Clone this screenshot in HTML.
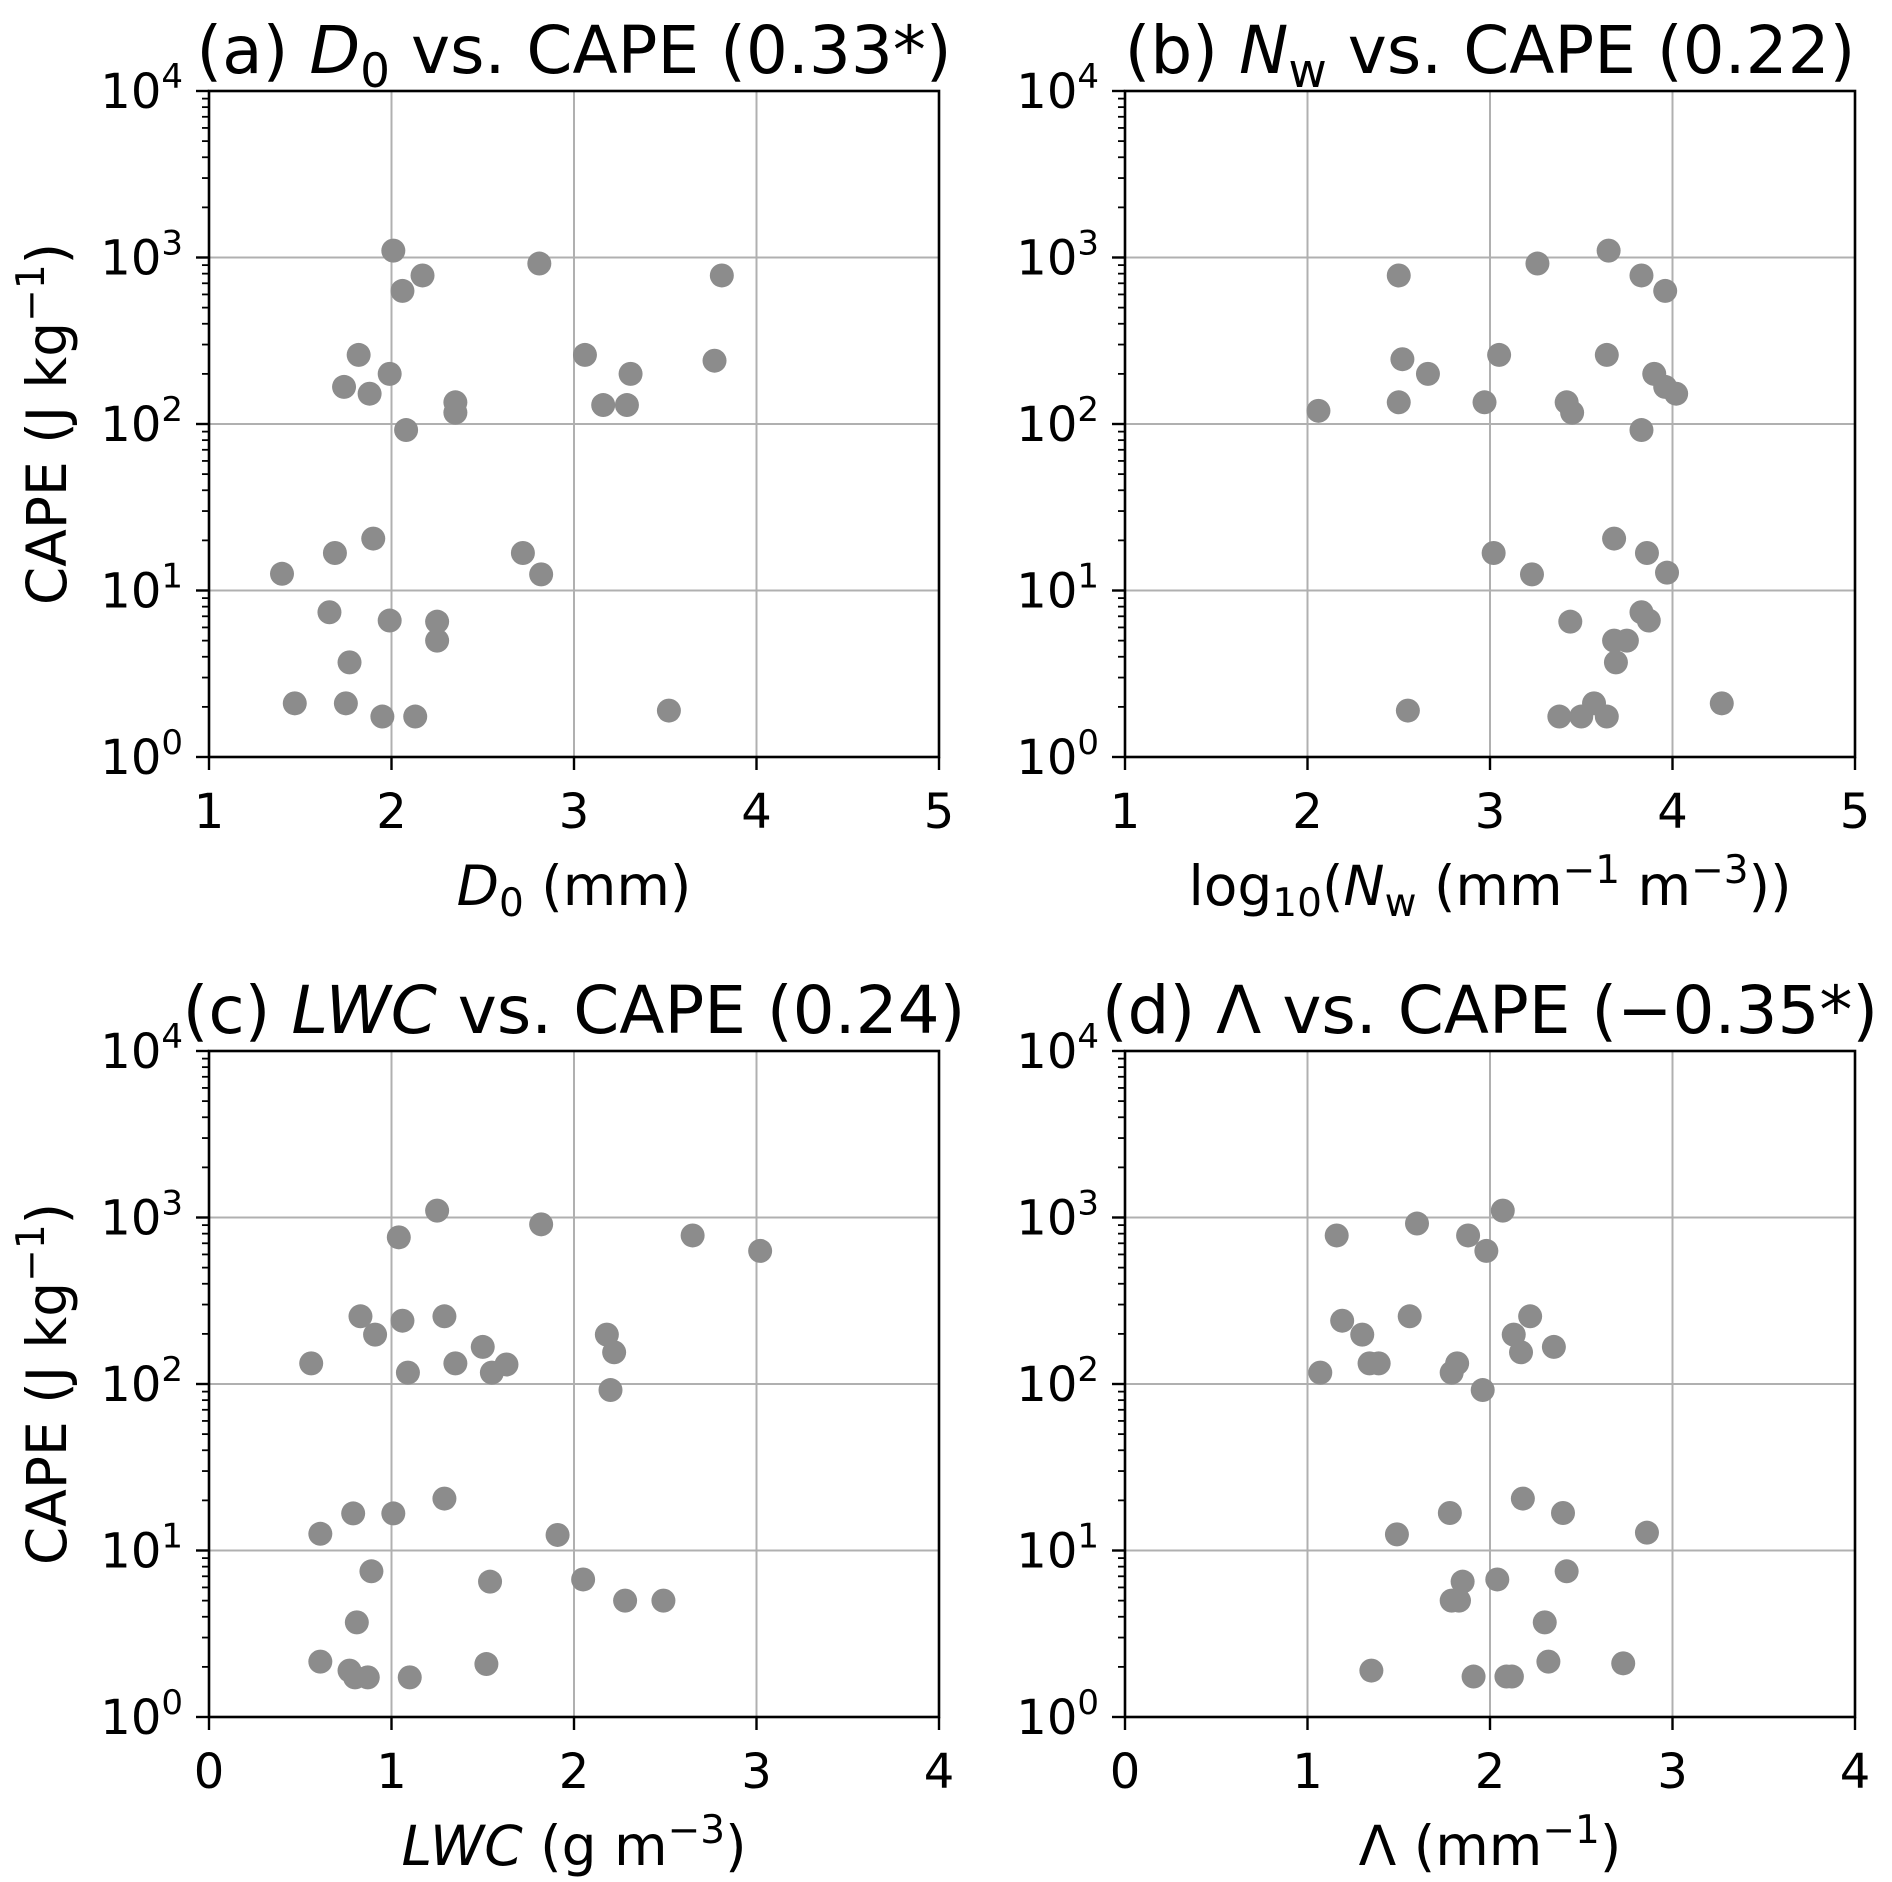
<!DOCTYPE html>
<html><head><meta charset="utf-8"><style>
html,body{margin:0;padding:0;background:#fff}
svg{display:block;font-family:"DejaVu Sans","Liberation Sans",sans-serif}
</style></head><body>
<svg id="fig" width="1892" height="1882" viewBox="0 0 1892 1882" xmlns="http://www.w3.org/2000/svg"></svg>
<script>
// ---- data ----
const aX = [2.01,2.06,2.17,2.81,3.81,1.82,1.99,1.74,1.88,2.35,2.35,2.08,3.06,3.31,3.16,3.29,3.77,1.40,1.69,1.90,2.72,2.82,1.66,1.99,2.25,2.25,1.77,1.47,1.75,1.95,2.13,3.52];
const aY = [1100,630,780,920,780,260,200,167,152,135,117,92,260,200,130,130,240,12.6,16.8,20.5,16.8,12.5,7.4,6.6,6.5,5.0,3.7,2.1,2.1,1.75,1.75,1.9];
const bX = [3.65,3.26,2.50,3.83,3.96,2.06,2.52,2.50,2.66,3.05,2.97,3.42,3.45,3.64,3.90,3.96,4.02,3.83,3.02,3.23,3.68,3.86,3.97,3.83,3.87,3.44,3.68,3.75,3.69,4.27,2.55,3.38,3.50,3.57,3.64];
const bY = [1100,920,780,780,630,120,245,135,200,260,135,135,117,260,200,167,152,92,16.8,12.5,20.5,16.8,12.8,7.4,6.6,6.5,5,5,3.7,2.1,1.9,1.75,1.75,2.1,1.75];
const cX = [1.25,1.04,1.82,2.65,3.02,0.83,1.06,0.91,1.29,1.50,0.56,1.09,1.35,1.55,1.63,2.18,2.22,2.20,1.29,0.79,1.01,0.61,1.91,0.89,1.54,2.05,2.28,2.49,0.81,0.61,0.77,0.80,0.87,1.10,1.52];
const cY = [1100,760,910,780,630,255,240,198,255,167,133,117,133,117,131,198,155,92,20.5,16.7,16.7,12.6,12.4,7.5,6.5,6.7,5.0,5.0,3.7,2.15,1.9,1.73,1.73,1.73,2.08];
const dX = [2.07,1.16,1.60,1.88,1.98,1.19,1.30,1.56,2.22,2.13,2.35,2.17,1.07,1.34,1.39,1.82,1.79,1.96,2.18,1.78,2.40,1.49,2.86,2.42,1.85,2.04,1.79,1.83,2.30,2.32,2.73,1.35,1.91,2.09,2.12];
const dY = [1100,780,920,780,630,240,198,255,255,198,167,155,117,133,133,133,117,92,20.5,16.8,16.8,12.5,12.8,7.5,6.5,6.7,5,5,3.7,2.15,2.1,1.9,1.75,1.75,1.75];
const xTicksAB = [1,2,3,4,5];
const xTicksCD = [0,1,2,3,4];
const yDecades = [0,1,2,3,4];

const NS="http://www.w3.org/2000/svg";
const svg=document.getElementById('fig');
function el(tag,attrs,parent){const e=document.createElementNS(NS,tag);for(const k in attrs)e.setAttribute(k,attrs[k]);(parent||svg).appendChild(e);return e;}

function panel(cfg){
  const g=el('g',{});
  
  
  const L=cfg.left,T=cfg.top,W=730,H=666;
  const xs=v=>L+(v-cfg.xmin)/(cfg.xmax-cfg.xmin)*W;
  const ys=v=>T+H-(Math.log10(v)-0)/4*H;
  cfg.xticks.forEach(t=>{const l=el('line',{x1:xs(t),x2:xs(t),y1:T,y2:T+H,stroke:'#b0b0b0','stroke-width':2},g);
    
    });
  yDecades.forEach(d=>{const v=Math.pow(10,d);const l=el('line',{x1:L,x2:L+W,y1:ys(v),y2:ys(v),stroke:'#b0b0b0','stroke-width':2},g);
    
    });
  cfg.x.forEach((xv,i)=>{const c=el('circle',{cx:xs(xv),cy:ys(cfg.y[i]),r:12,fill:'#8c8c8c'},g);
    
    });
  const fr=el('rect',{x:L,y:T,width:W,height:H,fill:'none',stroke:'#000','stroke-width':2.6},g);
  
  
  cfg.xticks.forEach(t=>{el('line',{x1:xs(t),x2:xs(t),y1:T+H,y2:T+H+13,stroke:'#000','stroke-width':2.4},g);
    const tx=el('text',{x:xs(t),y:T+H+71,'font-size':48,'text-anchor':'middle'},g);tx.textContent=t;
    
    });
  yDecades.forEach(d=>{const y=ys(Math.pow(10,d));
    el('line',{x1:L-13,x2:L,y1:y,y2:y,stroke:'#000','stroke-width':2.4},g);
    if(d<4){for(let m=2;m<10;m++){const ym=ys(m*Math.pow(10,d));el('line',{x1:L-7,x2:L,y1:ym,y2:ym,stroke:'#000','stroke-width':1.8},g);}}
    const tx=el('text',{x:L-26,y:y+17,'font-size':48,'text-anchor':'end'},g);
    
    
    const t1=el('tspan',{},tx);t1.textContent='10';
    const t2=el('tspan',{dy:-20,'font-size':34},tx);t2.textContent=d;});
  const ti=el('text',{x:L+W/2,y:T-18,'font-size':66,'text-anchor':'middle'},g);
  
  
  ti.innerHTML=cfg.title;
  const xl=el('text',{x:L+W/2,y:T+H+148,'font-size':55,'text-anchor':'middle'},g);
  
  
  xl.innerHTML=cfg.xlabel;
  if(cfg.ylabel){const cy=T+H/2;
    const yl=el('text',{x:0,y:0,'font-size':55,'text-anchor':'middle',transform:`translate(66,${cy}) rotate(-90)`},g);
    
    
    yl.innerHTML='CAPE (J kg<tspan dy="-22" font-size="39">−1</tspan><tspan dy="22">)</tspan>';}
}
panel({name:'panel-a',left:209,top:91,xmin:1,xmax:5,xticks:xTicksAB,x:aX,y:aY,ylabel:true,
 title:'(a) <tspan font-style="italic">D</tspan><tspan dy="14" font-size="47">0</tspan><tspan dy="-14"> vs. CAPE (0.33*)</tspan>',
 xlabel:'<tspan font-style="italic">D</tspan><tspan dy="11" font-size="39">0</tspan><tspan dy="-11"> (mm)</tspan>'});
panel({name:'panel-b',left:1125,top:91,xmin:1,xmax:5,xticks:xTicksAB,x:bX,y:bY,ylabel:false,
 title:'(b) <tspan font-style="italic">N</tspan><tspan dy="14" font-size="47">w</tspan><tspan dy="-14"> vs. CAPE (0.22)</tspan>',
 xlabel:'log<tspan dy="11" font-size="39">10</tspan><tspan dy="-11">(</tspan><tspan font-style="italic">N</tspan><tspan dy="11" font-size="39">w</tspan><tspan dy="-11"> (mm</tspan><tspan dy="-22" font-size="39">−1</tspan><tspan dy="22"> m</tspan><tspan dy="-22" font-size="39">−3</tspan><tspan dy="22">))</tspan>'});
panel({name:'panel-c',left:209,top:1051,xmin:0,xmax:4,xticks:xTicksCD,x:cX,y:cY,ylabel:true,
 title:'(c) <tspan font-style="italic">LWC</tspan> vs. CAPE (0.24)',
 xlabel:'<tspan font-style="italic">LWC</tspan> (g m<tspan dy="-22" font-size="39">−3</tspan><tspan dy="22">)</tspan>'});
panel({name:'panel-d',left:1125,top:1051,xmin:0,xmax:4,xticks:xTicksCD,x:dX,y:dY,ylabel:false,
 title:'(d) Λ vs. CAPE (−0.35*)',
 xlabel:'Λ (mm<tspan dy="-22" font-size="39">−1</tspan><tspan dy="22">)</tspan>'});
</script>
</body></html>
